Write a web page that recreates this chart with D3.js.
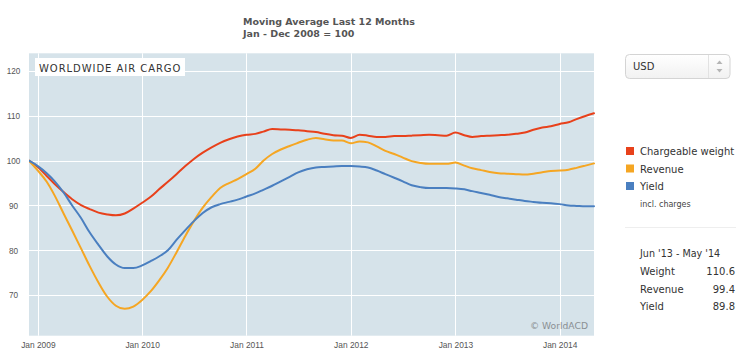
<!DOCTYPE html>
<html>
<head>
<meta charset="utf-8">
<script src="https://cdn.jsdelivr.net/npm/d3@7"></script>
<style>
  html, body { margin: 0; padding: 0; background: #fff; }
  svg { display: block; }
</style>
</head>
<body>
<svg id="chart" width="756" height="357"></svg>
<script>
// ---- Data (12-month moving average, Jan-Dec 2008 = 100), monthly Dec 2008 .. May 2014 ----
const startMonth = new Date(2008, 11, 1);
const endMonth = new Date(2014, 4, 1);
const months = d3.timeMonth.range(startMonth, d3.timeMonth.offset(endMonth, 1));

const chargeableWeight = [
  100.0, 98.6, 96.6, 94.8, 93.0, 91.4, 90.1, 89.2, 88.4, 88.0, 87.8, 88.2,
  89.3, 90.6, 92.0, 93.6, 95.3, 97.0, 98.8, 100.4, 101.8, 103.0, 104.0, 104.8,
  105.4, 105.8, 106.0, 106.5, 107.1, 107.0, 106.9, 106.8, 106.6, 106.4, 106.0, 105.7,
  105.6, 105.1, 105.8, 105.6, 105.3, 105.3, 105.5, 105.5, 105.6, 105.7, 105.8, 105.7,
  105.6, 106.3, 105.7, 105.3, 105.5, 105.6, 105.7, 105.8, 106.0, 106.3, 106.9, 107.4,
  107.7, 108.2, 108.6, 109.3, 110.0, 110.6
];
const revenue = [
  100.0, 97.8, 95.3, 92.2, 88.2, 84.4, 80.4, 76.5, 72.8, 69.6, 67.6, 66.9,
  67.4, 68.9, 70.9, 73.2, 76.1, 79.5, 83.2, 86.5, 89.5, 91.9, 93.9, 95.0,
  95.9, 97.0, 98.2, 100.0, 101.5, 102.5, 103.3, 104.0, 104.7, 105.1, 104.8, 104.5,
  104.5, 103.9, 104.3, 104.1, 103.2, 102.2, 101.5, 100.7, 99.9, 99.5, 99.3, 99.3,
  99.3, 99.6, 98.9, 98.3, 97.9, 97.5, 97.2, 97.1, 97.0, 96.9, 97.1, 97.4,
  97.7, 97.8, 98.0, 98.4, 98.9, 99.4
];
const yieldIdx = [
  100.0, 98.8, 97.2, 95.4, 92.9, 90.0, 87.2, 84.0, 81.2, 78.6, 76.8, 76.0,
  76.0, 76.6, 77.6, 78.6, 80.0, 82.3, 84.5, 86.5, 88.3, 89.6, 90.3, 90.8,
  91.3, 92.0, 92.7, 93.5, 94.4, 95.4, 96.4, 97.4, 98.1, 98.5, 98.6, 98.7,
  98.8, 98.8, 98.7, 98.5, 97.8, 97.0, 96.2, 95.4, 94.5, 94.1, 93.9, 93.9,
  93.9, 93.8, 93.6, 93.2, 92.8, 92.4, 91.9, 91.6, 91.3, 91.0, 90.8, 90.6,
  90.5, 90.3, 90.0, 89.9, 89.8, 89.8
];

const seriesNames = ["Chargeable weight", "Revenue", "Yield"];
const seriesColors = ["#e8411b", "#f5a623", "#4a7fc0"];
const yTicks = [70, 80, 90, 100, 110, 120];
const xTickYears = [2009, 2010, 2011, 2012, 2013, 2014];
const titleLines = ["Moving Average Last 12 Months", "Jan - Dec 2008 = 100"];
const summaryPeriod = "Jun '13 - May '14";
const summaryLabels = ["Weight", "Revenue", "Yield"];
const summaryValues = ["110.6", "99.4", "89.8"];

// ---- Layout ----
const svg = d3.select("#chart");
const plot = { left: 29, right: 594, top: 53.3, bottom: 335.7 };

const x = d3.scaleTime().domain([startMonth, endMonth]).range([plot.left, plot.right]);
const y = d3.scaleLinear().domain([60.9, 124]).range([plot.bottom, plot.top]);

// Title
svg.selectAll("text.title").data(titleLines).join("text")
  .attr("class", "title")
  .attr("x", 243).attr("y", (d, i) => 25 + i * 12)
  .attr("font-family", "DejaVu Sans, Verdana, sans-serif")
  .attr("font-weight", "bold").attr("font-size", "9.5px")
  .attr("fill", "#555")
  .text(d => d);

// Plot background
svg.append("rect")
  .attr("x", plot.left).attr("y", plot.top)
  .attr("width", plot.right - plot.left).attr("height", plot.bottom - plot.top)
  .attr("fill", "#d6e3ea");

// Grid lines
const xTicks = xTickYears.map(yr => new Date(yr, 0, 1));
svg.append("g").selectAll("line").data(xTicks).join("line")
  .attr("x1", d => Math.round(x(d)) + 0.5).attr("x2", d => Math.round(x(d)) + 0.5)
  .attr("y1", plot.top).attr("y2", plot.bottom)
  .attr("stroke", "#ffffff").attr("stroke-width", 1);
svg.append("g").selectAll("line").data(yTicks).join("line")
  .attr("x1", plot.left).attr("x2", plot.right)
  .attr("y1", d => Math.round(y(d)) + 0.5).attr("y2", d => Math.round(y(d)) + 0.5)
  .attr("stroke", "#ffffff").attr("stroke-width", 1);

// Axes (labels only)
const xAxis = d3.axisBottom(x).tickValues(xTicks)
  .tickFormat(d3.timeFormat("Jan %Y")).tickSize(0).tickPadding(0);
const gx = svg.append("g").attr("transform", `translate(0,${plot.bottom})`).call(xAxis);
gx.select(".domain").remove();
gx.selectAll("text")
  .attr("dy", 0).attr("y", 12.3)
  .attr("font-family", "Liberation Sans, Arial, sans-serif")
  .attr("font-size", "8.4px").attr("fill", "#555");

const yAxis = d3.axisLeft(y).tickValues(yTicks).tickSize(0).tickPadding(0);
const gy = svg.append("g").attr("transform", `translate(13.5,0)`).call(yAxis);
gy.select(".domain").remove();
gy.selectAll("text")
  .attr("text-anchor", "middle").attr("x", 0).attr("dy", "0.34em")
  .attr("font-family", "Liberation Sans, Arial, sans-serif")
  .attr("font-size", "8.2px").attr("fill", "#555");

// Lines
const allSeries = [chargeableWeight, revenue, yieldIdx];
const line = d3.line()
  .x((d, i) => x(months[i]))
  .y(d => y(d))
  .curve(d3.curveMonotoneX);
const clip = svg.append("clipPath").attr("id", "plotclip").append("rect")
  .attr("x", plot.left).attr("y", plot.top)
  .attr("width", plot.right - plot.left + 1).attr("height", plot.bottom - plot.top);
svg.append("g").attr("clip-path", "url(#plotclip)")
  .selectAll("path").data(allSeries).join("path")
  .attr("d", d => line(d))
  .attr("fill", "none")
  .attr("stroke", (d, i) => seriesColors[i])
  .attr("stroke-width", 2)
  .attr("stroke-linejoin", "round").attr("stroke-linecap", "round");

// Label box
svg.append("rect").attr("x", 35).attr("y", 58).attr("width", 150).attr("height", 18)
  .attr("fill", "#ffffff");
svg.append("text").attr("x", 39).attr("y", 72)
  .attr("font-family", "DejaVu Sans, Verdana, sans-serif")
  .attr("font-size", "10px").attr("letter-spacing", "0.95px").attr("fill", "#333")
  .text("WORLDWIDE AIR CARGO");

// Copyright
svg.append("text").attr("x", 588).attr("y", 329).attr("text-anchor", "end")
  .attr("font-family", "DejaVu Sans, Verdana, sans-serif")
  .attr("font-size", "9.2px").attr("fill", "#8a8f93")
  .text("\u00A9 WorldACD");

// ---- Right panel ----
const defs = svg.append("defs");
const grad = defs.append("linearGradient").attr("id", "selgrad")
  .attr("x1", 0).attr("y1", 0).attr("x2", 0).attr("y2", 1);
grad.append("stop").attr("offset", "0%").attr("stop-color", "#ffffff");
grad.append("stop").attr("offset", "100%").attr("stop-color", "#f1f1f1");
svg.append("rect").attr("x", 625.5).attr("y", 54.5).attr("width", 104.5).attr("height", 24)
  .attr("rx", 4).attr("fill", "url(#selgrad)").attr("stroke", "#d4d4d4");
svg.append("line").attr("x1", 708.5).attr("x2", 708.5).attr("y1", 55).attr("y2", 78)
  .attr("stroke", "#e2e2e2");
svg.append("text").attr("x", 633).attr("y", 70)
  .attr("font-family", "DejaVu Sans, Verdana, sans-serif")
  .attr("font-size", "10px").attr("fill", "#333").text("USD");
svg.append("path").attr("d", "M716.5,64 L719.5,60.5 L722.5,64 Z").attr("fill", "#b5b5b5");
svg.append("path").attr("d", "M716.5,69 L719.5,72.5 L722.5,69 Z").attr("fill", "#b5b5b5");

// Legend
const legendY = [147, 164.5, 182];
const lg = svg.append("g").selectAll("g").data(seriesNames).join("g")
  .attr("transform", (d, i) => `translate(626,${legendY[i]})`);
lg.append("rect").attr("width", 8).attr("height", 8).attr("fill", (d, i) => seriesColors[i]);
lg.append("text").attr("x", 14).attr("y", 8)
  .attr("font-family", "DejaVu Sans, Verdana, sans-serif")
  .attr("font-size", "10px").attr("fill", "#333").text(d => d);
svg.append("text").attr("x", 640).attr("y", 206.5)
  .attr("font-family", "DejaVu Sans, Verdana, sans-serif")
  .attr("font-size", "8px").attr("fill", "#444").text("incl. charges");

// Summary
svg.append("line").attr("x1", 625).attr("x2", 736).attr("y1", 227.5).attr("y2", 227.5)
  .attr("stroke", "#eeeeee");
svg.append("text").attr("x", 640).attr("y", 257.3)
  .attr("font-family", "DejaVu Sans, Verdana, sans-serif")
  .attr("font-size", "9.6px").attr("fill", "#333").text(summaryPeriod);
const sumY = [275, 292.7, 310];
svg.append("g").selectAll("text").data(summaryLabels).join("text")
  .attr("x", 640).attr("y", (d, i) => sumY[i])
  .attr("font-family", "DejaVu Sans, Verdana, sans-serif")
  .attr("font-size", "10px").attr("fill", "#333").text(d => d);
svg.append("g").selectAll("text").data(summaryValues).join("text")
  .attr("x", 735).attr("y", (d, i) => sumY[i]).attr("text-anchor", "end")
  .attr("font-family", "DejaVu Sans, Verdana, sans-serif")
  .attr("font-size", "10px").attr("fill", "#333").text(d => d);
</script>
</body>
</html>
